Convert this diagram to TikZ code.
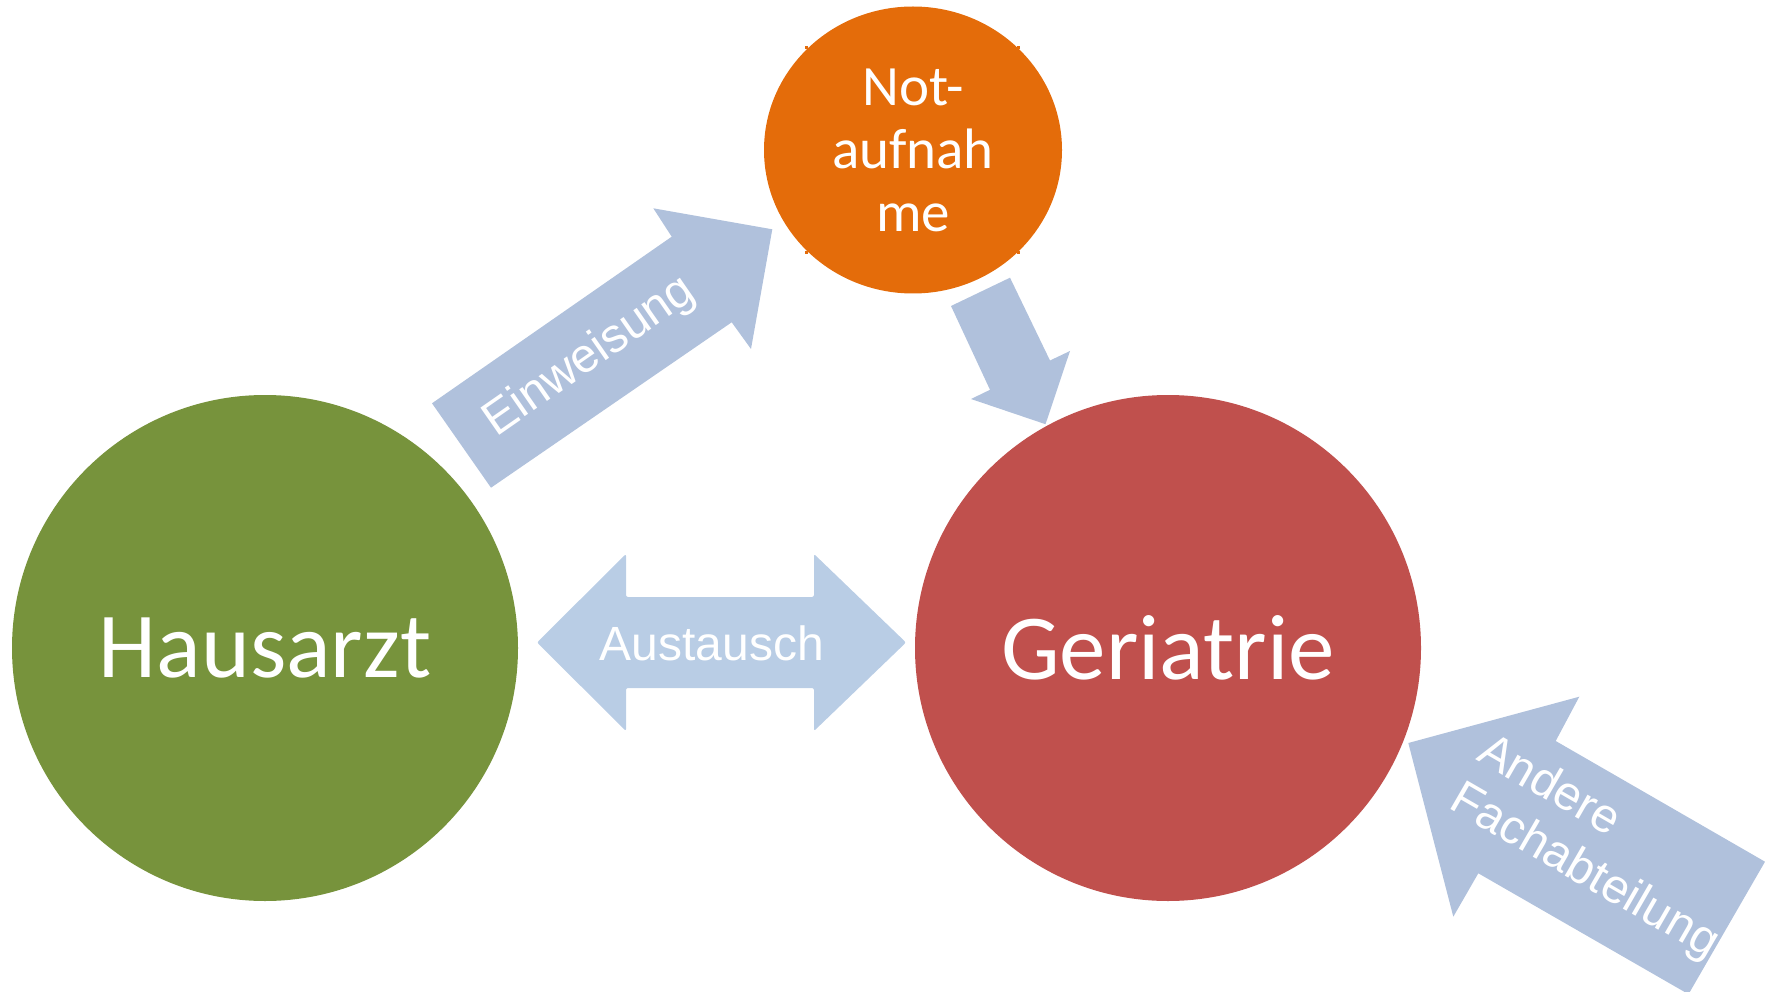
\documentclass[tikz,border=0pt]{standalone}
\usepackage{fontspec}
\setmainfont{Carlito}
\newfontfamily\arrowfont{Liberation Sans}
\usetikzlibrary{shapes.geometric}
\definecolor{hgreen}{HTML}{77933C}
\definecolor{gred}{HTML}{C0504D}
\definecolor{norange}{HTML}{E46C0A}
\definecolor{arrowblue}{HTML}{B0C1DC}
\definecolor{arrowlight}{HTML}{B9CDE5}
\begin{document}
\begin{tikzpicture}[x=1pt,y=-1pt,
  bigcirc/.style={circle, inner sep=0pt, minimum size=506pt, text=white, font=\fontsize{93}{100}\selectfont},
  blockarrow/.style={fill=arrowblue, draw=none},
  arrowtext/.style={text=white, font=\arrowfont\fontsize{48}{56}\selectfont, inner sep=0pt},
  speck/.style={fill=norange, draw=none}
]
\useasboundingbox (0,0) rectangle (1765,992);
\clip (0,0) rectangle (1765,992);

% circles
\node[bigcirc, fill=hgreen] (haus) at (265,648) {Hausarzt};
\node[bigcirc, fill=gred] (geri) at (1168,648) {Geriatrie};
\node[ellipse, inner sep=0pt, minimum width=298pt, minimum height=287pt, fill=norange,
      text=white, align=center, font=\fontsize{57}{63}\selectfont] (not) at (913,150) {Not-\\aufnah\\me};
\fill[speck] (804.5,46.5) rectangle +(3,3);
\fill[speck] (1017,46.5) rectangle +(3,3);
\fill[speck] (804.5,251) rectangle +(3,3);
\fill[speck] (1017,251) rectangle +(3,3);

% Einweisung arrow
\fill[blockarrow] (432,403.3) -- (671.7,236.7) -- (653.3,208.3) -- (772.3,229.3)
  -- (751,349) -- (731.7,322.3) -- (491,487.7) -- cycle;
\node[arrowtext, rotate=34.8] (einw) at (590,357) {Einweisung};

% Notaufnahme -> Geriatrie arrow
\fill[blockarrow] (951,306) -- (1010,277.7) -- (1050,360.5) -- (1070,351)
  -- (1045.5,424.2) -- (971,399) -- (990,389.8) -- cycle;

% Austausch double arrow
\fill[fill=arrowlight, rounded corners=2pt] (537,642.5) -- (626,554) -- (626,597) -- (814,597)
  -- (814,554) -- (906,642.5) -- (814,731) -- (814,688) -- (626,688) -- (626,731) -- cycle;
\node[arrowtext] (aust) at (712,643) {Austausch};

% Andere Fachabteilung arrow
\fill[blockarrow] (1408.3,743) -- (1579.3,696.7) -- (1555.7,741) -- (1765,861.7)
  -- (1688.5,994.2) -- (1478.3,873.3) -- (1453.3,916.7) -- cycle;
\node[arrowtext, rotate=-30, align=left] (andere) at (1598,848) {Andere\\Fachabteilung};
\end{tikzpicture}
\end{document}
